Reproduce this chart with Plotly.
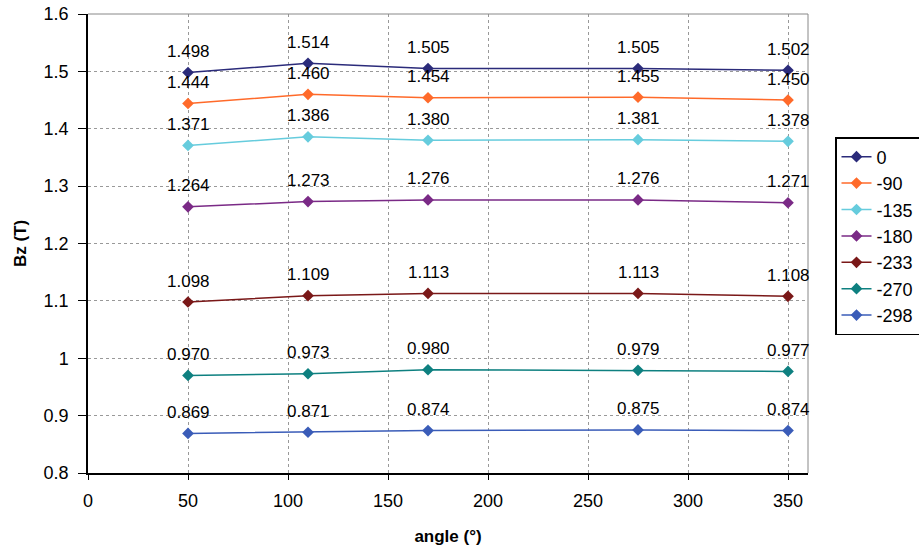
import plotly.graph_objects as go

angles = [50, 110, 170, 275, 350]
series_names = ["0", "-90", "-135", "-180", "-233", "-270", "-298"]
v0 = [1.498, 1.514, 1.505, 1.505, 1.502]
v90 = [1.444, 1.460, 1.454, 1.455, 1.450]
v135 = [1.371, 1.386, 1.380, 1.381, 1.378]
v180 = [1.264, 1.273, 1.276, 1.276, 1.271]
v233 = [1.098, 1.109, 1.113, 1.113, 1.108]
v270 = [0.970, 0.973, 0.980, 0.979, 0.977]
v298 = [0.869, 0.871, 0.874, 0.875, 0.874]
all_values = [v0, v90, v135, v180, v233, v270, v298]
colors = ["#2B2B7A", "#FF6A2A", "#66CCDD", "#7A2A86", "#7A1818", "#0E8080", "#3A5CB8"]

FONT = "Liberation Sans, Arial, sans-serif"
fig = go.Figure()
annotations = []
for name, vals, col in zip(series_names, all_values, colors):
    fig.add_trace(go.Scatter(
        x=angles, y=vals, name=name, mode="lines+markers",
        line=dict(color=col, width=1.5),
        marker=dict(symbol="diamond", size=9, color=col),
    ))
    for xv, yv in zip(angles, vals):
        annotations.append(dict(
            x=xv, y=yv, text=f"{yv:.3f}", showarrow=False,
            yshift=21, font=dict(family=FONT, size=17, color="black"),
        ))

fig.update_layout(
    width=919, height=551,
    margin=dict(l=88, r=111, t=14, b=78, autoexpand=False),
    paper_bgcolor="white", plot_bgcolor="white",
    font=dict(family=FONT, size=18, color="black"),
    annotations=annotations,
    showlegend=True,
    legend=dict(
        x=1.0375, y=0.732, xanchor="left", yanchor="top",
        bordercolor="black", borderwidth=1.5,
        font=dict(family=FONT, size=18),
        itemwidth=30,
    ),
    xaxis=dict(
        range=[0, 360], dtick=50, tick0=0,
        showgrid=True, gridcolor="#999999", griddash="dot", gridwidth=1,
        showline=True, linecolor="black", linewidth=1.5,
        ticks="outside", ticklen=5, tickcolor="black",
        ticklabelstandoff=6, ticklabeloverflow="allow",
        zeroline=False, mirror=False,
        title=dict(text="<b>angle (°)</b>", font=dict(size=17), standoff=20),
    ),
    yaxis=dict(
        range=[0.8, 1.6], dtick=0.1, tick0=0.8,
        showgrid=True, gridcolor="#999999", griddash="dot", gridwidth=1,
        showline=True, linecolor="black", linewidth=1.5,
        ticks="outside", ticklen=8, tickcolor="black",
        ticklabelstandoff=6, ticklabeloverflow="allow",
        zeroline=False,
        tickformat="~r",
        title=dict(text="<b>Bz (T)</b>", font=dict(size=17), standoff=13),
    ),
)
fig.add_shape(type="line", xref="paper", yref="paper", x0=0, x1=1, y0=1, y1=1,
              line=dict(color="#888888", width=1))
fig.add_shape(type="line", xref="paper", yref="paper", x0=1, x1=1, y0=0, y1=1,
              line=dict(color="#888888", width=1))

fig.write_html(
    "out.html",
    config={"displayModeBar": False},
    post_script="document.body.style.margin='0';document.body.style.overflow='hidden';",
)
